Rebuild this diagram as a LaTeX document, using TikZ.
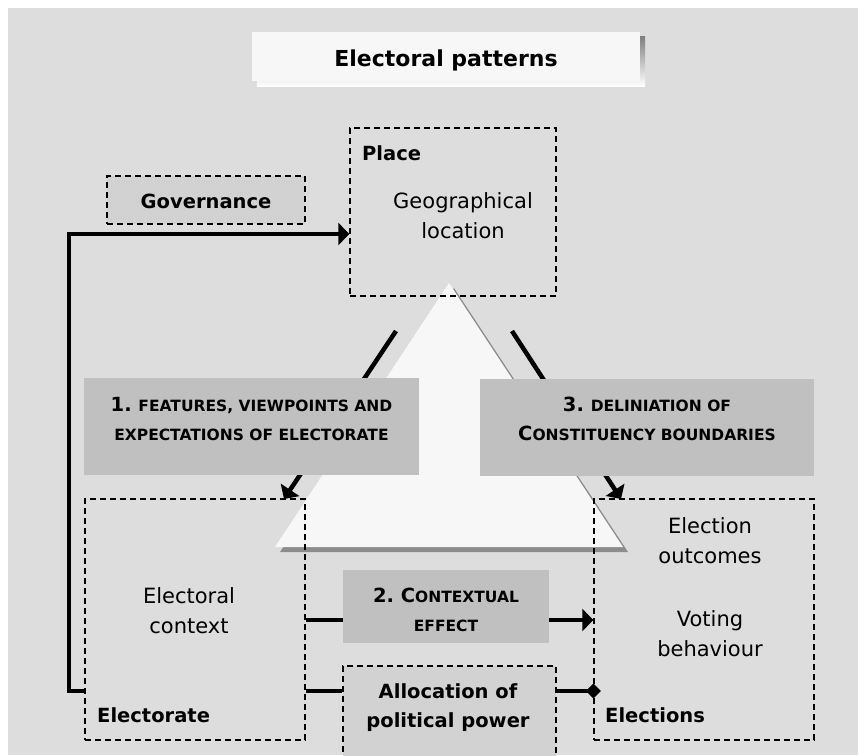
\documentclass[tikz,border=0pt]{standalone}
\usepackage{fontspec}
\setmainfont{DejaVu Sans}
\usetikzlibrary{arrows.meta}

\definecolor{panel}{HTML}{DDDDDD}
\definecolor{paper}{HTML}{F7F7F7}
\definecolor{boxgray}{HTML}{C0C0C0}
\definecolor{softgray}{HTML}{D2D2D2}
\definecolor{shade}{HTML}{A8A8A8}
\definecolor{trishade}{HTML}{8C8C8C}

\pgfdeclarelayer{bg}
\pgfdeclarelayer{links}
\pgfsetlayers{bg,links,main}

% small capitals imitated with reduced upper case
\newcommand\smc[1]{{\fontsize{15.5}{29}\selectfont #1}}

\begin{document}
\begin{tikzpicture}[x=1pt,y=-1pt,
  frame/.style={draw=black, line width=1.4pt, dash pattern=on 6pt off 4pt, inner sep=0pt},
  graybox/.style={fill=boxgray, draw=none, inner sep=0pt},
  body/.style={font=\fontsize{21}{30}\selectfont, align=center, inner sep=0pt},
  heading/.style={font=\bfseries\fontsize{19.5}{29}\selectfont, align=center, inner sep=0pt},
  link/.style={line width=4.5pt, line join=miter},
  >={Triangle[length=11pt,width=22pt]}]

\useasboundingbox (0,0) rectangle (858,755);

% ---- boxes ----
\node[fill=paper, minimum width=388pt, minimum height=49pt, inner sep=0pt] (title) at (446,56.5) {};
\node[frame, minimum width=206pt, minimum height=168pt] (place) at (453,212) {};
\node[frame, fill=softgray, minimum width=198pt, minimum height=48pt] (gov) at (206,200) {};
\node[graybox, minimum width=335pt, minimum height=97pt] (feat) at (251.5,426.5) {};
\node[graybox, minimum width=334pt, minimum height=97pt] (delin) at (647,427.5) {};
\node[frame, minimum width=220pt, minimum height=241pt] (electorate) at (195,619.5) {};
\node[frame, minimum width=220pt, minimum height=241pt] (elections) at (704,619.5) {};
\node[graybox, minimum width=206pt, minimum height=73pt] (ctx) at (446,606.5) {};
\begin{scope}
  \clip (0,0) rectangle (858,755);
  \node[frame, fill=softgray, minimum width=213pt, minimum height=124pt] (alloc) at (449.5,728) {};
\end{scope}

% ---- texts ----
\node[heading, font=\bfseries\fontsize{22}{29}\selectfont, anchor=base] (ttl) at (446,66) {Electoral patterns};
\node[heading, anchor=base west] (placelbl) at (362,160) {Place};
\node[body] (geo) at (463,216) {Geographical\\location};
\node[heading, anchor=base] (govlbl) at (206,208) {Governance};
\node[heading] (featlbl) at (251.5,418.5) {1.~\smc{FEATURES, VIEWPOINTS AND}\\\smc{EXPECTATIONS OF ELECTORATE}};
\node[heading] (delinlbl) at (647,418.5) {3.~\smc{DELINIATION OF}\\C\smc{ONSTITUENCY BOUNDARIES}};
\node[heading] (ctxlbl) at (446,610) {2.~C\smc{ONTEXTUAL}\\\smc{EFFECT}};
\node[body] (context) at (189,611) {Electoral\\context};
\node[heading, anchor=base west] (electoratelbl) at (97,722) {Electorate};
\node[body] (outcomes) at (710,540.5) {Election\\outcomes};
\node[body] (voting) at (710,634) {Voting\\behaviour};
\node[heading, anchor=base west] (electionslbl) at (605,722) {Elections};
\node[heading] (alloclbl) at (448,707.5) {Allocation of\\political power};

% ---- backdrop, shadows and triangle ----
\begin{pgfonlayer}{bg}
  \fill[panel] (8,8) rectangle (858,755);
  \fill[shade] ([shift={(5,5)}]title.north west) rectangle ([shift={(5,5)}]title.south east);
  \coordinate (apex) at (449,283);
  \coordinate (baseL) at (275,547);
  \coordinate (baseR) at (623,547);
  \fill[trishade] ([shift={(5,5)}]apex) -- ([shift={(5,5)}]baseL) -- ([shift={(5,5)}]baseR) -- cycle;
  \fill[paper] (apex) -- (baseL) -- (baseR) -- cycle;
\end{pgfonlayer}

% ---- connectors ----
\begin{pgfonlayer}{links}
  \coordinate (looprow) at (0,234);
  \coordinate (loopcol) at (69,0);
  \coordinate (ctxrow) at (0,620);
  \coordinate (allocrow) at (0,691);
  \coordinate (featstart) at (396,331);
  \coordinate (featend) at (284,499);
  \coordinate (delinstart) at (512,331);
  \coordinate (delinend) at (621,499);

  \draw[link,->] (electorate.west |- allocrow) -- (loopcol |- allocrow) |- (place.west |- looprow);
  \draw[link,->] (featstart) -- (featend);
  \draw[link,->] (delinstart) -- (delinend);
  \draw[link,->] (electorate.east |- ctxrow) -- (elections.west |- ctxrow);
  \draw[link] (electorate.east |- allocrow) -- (alloc.west |- allocrow);
  \draw[link,-{Diamond[length=15pt,width=15pt]}, shorten >=-7.5pt] (alloc.east |- allocrow) -- (elections.west |- allocrow);
\end{pgfonlayer}

\end{tikzpicture}
\end{document}
